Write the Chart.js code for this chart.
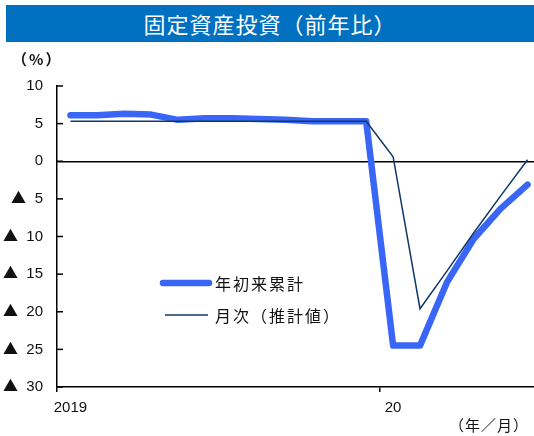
<!DOCTYPE html>
<html lang="ja">
<head>
<meta charset="utf-8">
<title>固定資産投資（前年比）</title>
<script src="https://cdn.jsdelivr.net/npm/chart.js@4/dist/chart.umd.min.js"></script>
<style>
  /* large triangle glyph for the negative tick labels */
  @font-face {
    font-family: 'TriMark';
    src: local('Noto Sans CJK JP'), local('NotoSansCJKjp-Regular'), local('DejaVu Sans');
    unicode-range: U+25B2;
  }
  html, body { margin: 0; padding: 0; background: #fff; overflow: hidden; }
  #wrap { position: relative; width: 534px; height: 436px; overflow: hidden; }
  #chart { position: absolute; left: 0; top: 0; }
  .banner {
    position: absolute; left: 6px; top: 5px; width: 528px; height: 37px;
    background: #0070c0; color: #fff; text-align: center;
    font: 22px "Noto Sans CJK JP", sans-serif; line-height: 37px; letter-spacing: 1px;
  }
  .unit { position: absolute; font-family: "Noto Sans CJK JP", sans-serif; color: #111; }
</style>
</head>
<body>
<div id="wrap">
  <canvas id="chart" width="545" height="436"></canvas>
  <div class="banner">固定資産投資（前年比）</div>
  <div class="unit" style="left:12px; top:48px; font-size:15px; font-weight:bold; letter-spacing:2px;">（%）</div>
  <div class="unit" style="left:449px; top:414px; font-size:15px; letter-spacing:1px;">（年／月）</div>
</div>
<script>
// 2019/1 - 2020/6, monthly
var months = [
  '2019', '', '', '', '', '', '', '', '', '', '', '',
  '20', '', '', '', '', ''
];
// 年初来累計 (cumulative, % y/y)
var cumulative = [
  6.1, 6.1, 6.3, 6.2, 5.5, 5.7, 5.7, 5.6, 5.5, 5.3, 5.3, 5.3,
  -24.5, -24.5, -16.1, -10.3, -6.3, -3.1
];
// 月次（推計値）
var monthly = [
  5.3, 5.3, 5.3, 5.3, 5.3, 5.3, 5.3, 5.3, 5.3, 5.3, 5.3, 5.3,
  0.6, -19.6, -14.6, -9.5, -4.6, 0.2
];
var yTicks = [10, 5, 0, -5, -10, -15, -20, -25, -30];

// short tick marks pointing into the plot, and the in-plot legend
var extras = {
  id: 'extras',
  afterDraw: function (chart) {
    var c = chart.ctx;
    var area = chart.chartArea;
    var y = chart.scales.y;
    c.save();
    c.strokeStyle = '#000';
    c.lineWidth = 1.5;
    yTicks.forEach(function (v) {
      var py = y.getPixelForValue(v);
      c.beginPath();
      c.moveTo(area.left, py);
      c.lineTo(area.left + 6, py);
      c.stroke();
    });

    var items = [
      { ds: chart.data.datasets[1], x0: 163, x1: 209, y: 283 },
      { ds: chart.data.datasets[0], x0: 165, x1: 208, y: 315 }
    ];
    c.font = '16px "Noto Sans CJK JP", sans-serif';
    c.textBaseline = 'middle';
    c.letterSpacing = '2px';
    items.forEach(function (it) {
      c.strokeStyle = it.ds.borderColor;
      c.lineWidth = it.ds.borderWidth;
      c.lineCap = it.ds.borderWidth > 3 ? 'round' : 'butt';
      c.beginPath();
      c.moveTo(it.x0, it.y);
      c.lineTo(it.x1, it.y);
      c.stroke();
      c.fillStyle = '#111';
      c.fillText(it.ds.label, 215, it.y + 1);
    });
    c.restore();
  }
};

function drawChart() {
  new Chart(document.getElementById('chart'), {
    type: 'line',
    data: {
      labels: months,
      datasets: [
        {
          label: '月次（推計値）',
          data: monthly,
          borderColor: '#0f3868',
          borderWidth: 1.5,
          pointRadius: 0,
          tension: 0,
          order: 0
        },
        {
          label: '年初来累計',
          data: cumulative,
          borderColor: '#3a66f7',
          borderWidth: 6.5,
          borderCapStyle: 'round',
          borderJoinStyle: 'round',
          pointRadius: 0,
          tension: 0,
          order: 1
        }
      ]
    },
    options: {
      responsive: false,
      animation: false,
      layout: { padding: { top: 86, right: 4, bottom: 0, left: 0 } },
      plugins: { legend: { display: false }, tooltip: { enabled: false } },
      scales: {
        x: {
          offset: true,
          grid: {
            offset: true,
            drawOnChartArea: false,
            drawTicks: true,
            tickLength: 5,
            lineWidth: 1.5,
            color: function (ctx) { return (ctx.index === 0 || ctx.index === 12) ? '#000' : 'rgba(0,0,0,0)'; },
            tickColor: function (ctx) { return (ctx.index === 0 || ctx.index === 12) ? '#000' : 'rgba(0,0,0,0)'; }
          },
          border: { display: true, color: '#000', width: 1.5 },
          ticks: {
            autoSkip: false,
            maxRotation: 0,
            padding: 7,
            color: '#111',
            font: { family: '"Liberation Sans", Arial, sans-serif', size: 15 }
          },
          afterFit: function (s) { s.height = 49; }
        },
        y: {
          min: -30,
          max: 10,
          ticks: {
            stepSize: 5,
            padding: 14,
            color: '#111',
            font: { family: 'TriMark, "Liberation Sans", Arial, sans-serif', size: 15 },
            callback: function (v) { return v < 0 ? '▲  ' + (-v) : String(v); }
          },
          grid: {
            drawTicks: false,
            lineWidth: 1.5,
            color: function (ctx) { return ctx.tick && ctx.tick.value === 0 ? '#000' : 'rgba(0,0,0,0)'; }
          },
          border: { display: true, color: '#000', width: 1.5 },
          afterFit: function (s) { s.width = 57; }
        }
      }
    },
    plugins: [extras]
  });
}

document.fonts.load('15px TriMark', '▲').then(drawChart, drawChart);
</script>
</body>
</html>
